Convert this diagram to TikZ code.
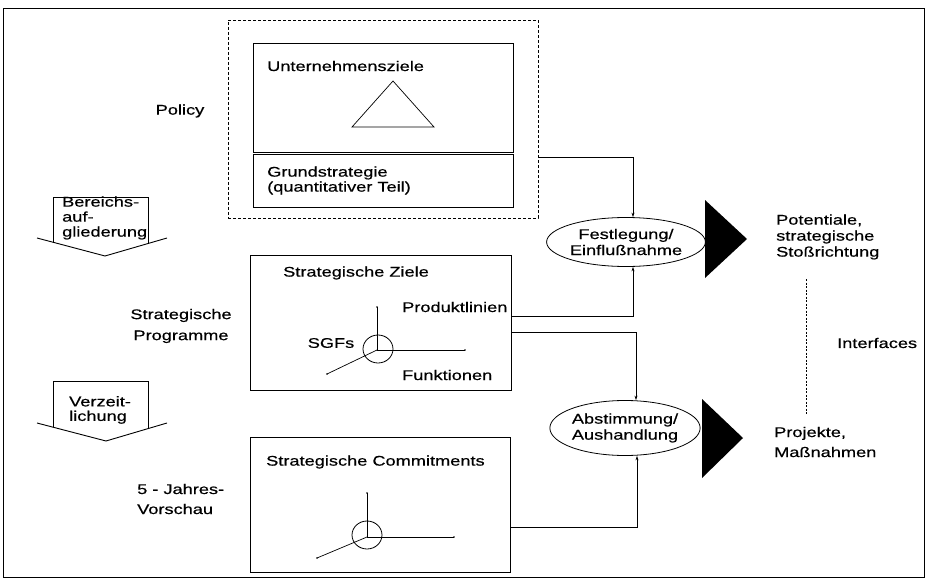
\documentclass[tikz,border=0pt]{standalone}
\usepackage{fontspec}
\setmainfont{Liberation Sans}[FakeStretch=1.3,FakeBold=0.5]
\usetikzlibrary{arrows.meta,shapes.geometric}
\begin{document}
\begin{tikzpicture}[x=1pt,y=-1pt,
  every node/.style={font=\fontsize{14}{16}\selectfont, inner sep=0pt},
  box/.style={draw, line width=0.9pt, rectangle, minimum width=#1},
  box/.default=260,
  outline/.style={draw, line width=0.9pt, line join=miter},
  conn/.style={line width=0.6pt, -{Stealth[length=4.5pt,width=3pt]}},
  oval/.style={draw, line width=0.8pt, ellipse, inner sep=0pt},
  lbl/.style={align=left, anchor=west},
  axis/.style={line width=0.7pt},
  tipdot/.style={fill, circle, minimum size=1.8pt},
]
\useasboundingbox (0,0) rectangle (928,580);
% outer frame
\draw[line width=0.9pt] (3,8) rectangle (924,577);

% policy block
\node[draw, dash pattern=on 3pt off 2pt, line width=0.6pt, minimum width=310, minimum height=198] (pol) at (383,119) {};
\node[box, minimum height=109] (uz) at (383,97.5) {};
\node[box, minimum height=53] (gs) at (383,180.5) {};
\node[lbl] (uzt) at (267,66) {Unternehmensziele};
\draw[line width=0.7pt] (393,81) -- (434,127) -- (352,127) -- cycle;
\node[lbl, font=\fontsize{14}{15}\selectfont] (gst) at (267,180.5) {Grundstrategie\\(quantitativer Teil)};

% strategic objectives
\node[box=261, minimum height=135] (zi) at (380.5,322.5) {};
\node[lbl] (zit) at (283,273) {Strategische Ziele};
\node[lbl] (prod) at (402,307) {Produktlinien};
\node (sgf) at (331,343) {SGFs};
\node[lbl] (funk) at (402,375) {Funktionen};
\coordinate (o1) at (377,350);
\draw[line width=0.8pt] (378,349) ellipse (15pt and 14pt);
\draw[axis] (o1) -- (377,307) node[tipdot] {};
\draw[axis] (o1) -- (465,350) node[tipdot] {};
\draw[axis] (o1) -- (327,374) node[tipdot] {};

% strategic commitments
\node[box, minimum height=135] (com) at (380,504.5) {};
\node[lbl] (comt) at (266,462) {Strategische Commitments};
\coordinate (o2) at (367,537);
\draw[line width=0.8pt] (367,535) ellipse (15pt and 14pt);
\draw[axis] (o2) -- (367,493) node[tipdot] {};
\draw[axis] (o2) -- (454,537) node[tipdot] {};
\draw[axis] (o2) -- (317,558) node[tipdot] {};

% left labels
\node (pl) at (180,111) {Policy};
\node[align=center, font=\fontsize{14}{21}\selectfont] (sp) at (181,326) {Strategische\\Programme};
\node[lbl, font=\fontsize{14}{20}\selectfont] (jv) at (137,499) {5 - Jahres-\\Vorschau};

% block arrows
\draw[outline] (37,238) -- (105,256) -- (167,238);
\draw[outline] (53,242.2) -- (53,197) -- (148,197) -- (148,243.5);
\node[lbl, font=\fontsize{14}{15}\selectfont] (ba) at (62,218) {Bereichs-\\auf-\\gliederung};
\draw[outline] (37,423) -- (106,441) -- (167,423);
\draw[outline] (53,427.2) -- (53,381) -- (148,381) -- (148,428.5);
\node[lbl, font=\fontsize{14}{14.5}\selectfont] (vz) at (69,410) {Verzeit-\\lichung};

% coordination ovals
\node[oval, minimum width=142, minimum height=49, align=center] (fest) at (626,242) {Festlegung/\\Einflußnahme};
\node[oval, minimum width=140, minimum height=55, align=center] (abst) at (625,428) {Abstimmung/\\Aushandlung};

% connectors
\coordinate (j1) at (633,157);
\coordinate (j2) at (633,316);
\coordinate (j3) at (636,332);
\coordinate (j4) at (637,527);
\draw[conn] (pol.east |- j1) -- (j1) -- (fest.north -| j1);
\draw[conn] (zi.east |- j2) -- (j2) -- (fest.south -| j2);
\draw[conn] (zi.east |- j3) -- (j3) -- (abst.north -| j3);
\draw[conn] (com.east |- j4) -- (j4) -- (abst.south -| j4);

% black pointers
\fill (705,200) -- (747,239) -- (705,278) -- cycle;
\fill (702,399) -- (743,438) -- (702,478) -- cycle;

% right labels
\node[lbl] (pot) at (776,237) {Potentiale,\\strategische\\Stoßrichtung};
\node[lbl, font=\fontsize{14}{20}\selectfont] (proj) at (774,442) {Projekte,\\Maßnahmen};
\node[lbl] (intf) at (837,343) {Interfaces};
\coordinate (d1) at (806,279);
\coordinate (d2) at (806,415);
\draw[line width=0.6pt, dash pattern=on 2pt off 1.5pt] (d1) -- (d2);
\end{tikzpicture}
\end{document}
